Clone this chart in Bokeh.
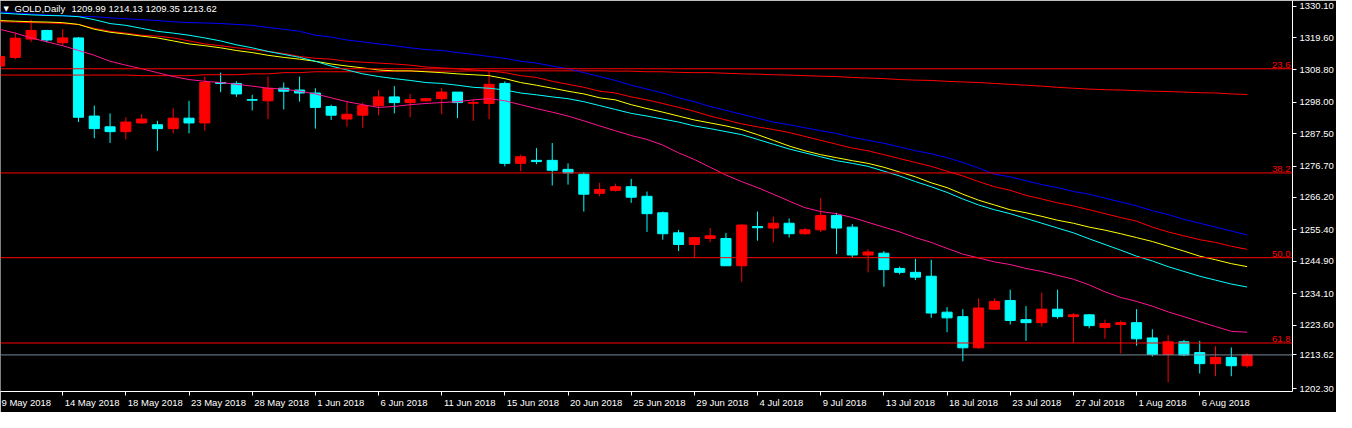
import numpy as np
from bokeh.plotting import figure
from bokeh.models import (ColumnDataSource, FixedTicker, NumeralTickFormatter, Range1d,
                          Span, Label, LinearAxis, CustomJSTickFormatter)
from bokeh.core.properties import value
from bokeh.embed import file_html
from bokeh.resources import INLINE

symbol = "GOLD,Daily"

opens = [1310.1, 1313.0, 1319.1, 1322.0, 1317.9, 1319.5, 1293.4, 1289.8, 1288.2, 1291.1,
         1290.5, 1289.2, 1292.7, 1291.1, 1304.6, 1304.3, 1298.9, 1298.5, 1302.7, 1302.1,
         1301.1, 1296.6, 1292.4, 1293.7, 1296.9, 1299.8, 1297.9, 1298.5, 1299.2, 1301.4,
         1297.7, 1297.6, 1304.3, 1277.6, 1278.6, 1278.6, 1275.6, 1274.0, 1267.6, 1268.6,
         1269.8, 1266.6, 1261.1, 1254.4, 1250.5, 1252.5, 1252.5, 1243.4, 1256.5, 1256.0,
         1257.6, 1254.1, 1255.4, 1260.2, 1256.3, 1247.0, 1247.6, 1242.5, 1241.2, 1239.9,
         1227.9, 1226.4, 1216.0, 1228.9, 1231.8, 1225.4, 1224.4, 1228.9, 1226.4, 1227.0,
         1222.8, 1223.8, 1224.4, 1219.3, 1213.8, 1218.0, 1214.4, 1210.7, 1212.8, 1209.99]

highs = [1314.6, 1321.3, 1325.6, 1322.2, 1322.4, 1319.8, 1296.9, 1294.3, 1293.0, 1294.0,
         1291.8, 1296.0, 1298.5, 1306.6, 1307.9, 1305.0, 1300.5, 1306.6, 1304.6, 1306.6,
         1302.7, 1297.2, 1298.2, 1297.9, 1302.1, 1303.4, 1300.8, 1299.5, 1302.7, 1301.4,
         1298.9, 1308.8, 1305.0, 1280.5, 1282.7, 1284.4, 1277.6, 1274.7, 1271.1, 1270.8,
         1272.4, 1268.2, 1261.5, 1255.4, 1253.1, 1256.0, 1254.4, 1257.3, 1261.5, 1259.9,
         1259.2, 1256.0, 1266.0, 1261.1, 1257.3, 1248.9, 1248.3, 1243.1, 1245.7, 1245.4,
         1229.6, 1228.9, 1232.5, 1232.5, 1235.4, 1229.9, 1234.4, 1235.4, 1227.6, 1227.3,
         1225.4, 1225.1, 1228.9, 1222.2, 1220.2, 1218.6, 1218.3, 1216.5, 1216.1, 1214.13]

lows = [1309.2, 1312.4, 1318.1, 1318.0, 1316.9, 1291.4, 1286.0, 1284.4, 1285.6, 1290.8,
        1281.8, 1287.6, 1287.6, 1288.5, 1301.4, 1299.8, 1295.3, 1292.4, 1295.6, 1298.2,
        1289.2, 1292.1, 1289.8, 1289.5, 1293.7, 1294.3, 1293.0, 1298.2, 1294.0, 1292.7,
        1291.8, 1292.4, 1276.6, 1275.0, 1277.3, 1270.2, 1270.5, 1261.5, 1266.6, 1268.2,
        1264.4, 1254.7, 1252.1, 1248.3, 1246.0, 1251.2, 1243.4, 1238.0, 1251.8, 1251.2,
        1252.8, 1253.7, 1254.7, 1247.3, 1246.0, 1241.2, 1236.4, 1240.5, 1238.6, 1226.0,
        1221.2, 1211.5, 1215.7, 1228.9, 1223.8, 1218.3, 1223.1, 1225.7, 1217.6, 1222.5,
        1219.0, 1214.1, 1216.7, 1213.1, 1204.5, 1213.2, 1207.4, 1206.5, 1206.5, 1209.35]

closes = [1313.3, 1319.4, 1322.0, 1318.8, 1319.5, 1293.0, 1289.2, 1288.2, 1291.4, 1292.4,
          1289.2, 1292.7, 1291.1, 1304.6, 1304.3, 1300.8, 1298.7, 1302.7, 1301.7, 1301.1,
          1296.3, 1293.7, 1294.0, 1296.9, 1299.8, 1297.9, 1298.9, 1299.2, 1301.4, 1297.9,
          1297.9, 1304.0, 1277.6, 1279.8, 1278.2, 1275.3, 1274.4, 1267.3, 1268.9, 1269.8,
          1266.3, 1260.8, 1254.1, 1250.5, 1252.8, 1253.4, 1243.4, 1257.0, 1256.1, 1257.6,
          1254.1, 1255.4, 1260.2, 1256.0, 1247.0, 1248.0, 1242.1, 1241.2, 1239.6, 1227.6,
          1226.0, 1216.0, 1229.3, 1231.5, 1225.1, 1224.4, 1228.9, 1226.4, 1227.0, 1223.4,
          1224.1, 1224.4, 1219.0, 1213.8, 1218.0, 1213.6, 1210.7, 1212.8, 1210.0, 1213.62]

ma_pink = [1322.4, 1321.1, 1319.5, 1318.2, 1316.9, 1315.3, 1313.7, 1311.7, 1310.4, 1309.2,
           1307.9, 1306.6, 1305.6, 1305.0, 1304.6, 1304.0, 1303.4, 1302.7, 1302.4, 1301.7,
           1300.8, 1299.5, 1298.2, 1297.2, 1296.3, 1296.6, 1297.2, 1297.6, 1297.9, 1298.2,
           1298.8, 1299.2, 1298.5, 1297.2, 1295.9, 1294.7, 1293.4, 1291.8, 1290.1, 1288.5,
           1286.9, 1285.6, 1283.7, 1281.1, 1278.9, 1276.3, 1273.7, 1271.5, 1269.5, 1267.3,
           1265.0, 1262.8, 1261.5, 1260.8, 1259.5, 1257.9, 1256.3, 1254.7, 1252.8, 1251.2,
           1249.2, 1247.3, 1246.0, 1244.7, 1243.8, 1242.5, 1241.5, 1240.2, 1238.9, 1237.0,
           1234.7, 1232.8, 1231.5, 1229.9, 1228.0, 1226.4, 1224.7, 1223.1, 1221.5, 1221.2]

ma_cyan = [1327.8, 1327.5, 1327.2, 1327.0, 1326.9, 1326.6, 1325.6, 1324.3, 1323.7, 1322.7,
           1321.7, 1321.1, 1320.4, 1319.5, 1318.5, 1317.2, 1316.2, 1315.0, 1314.0, 1313.0,
           1311.7, 1310.1, 1308.8, 1307.5, 1306.6, 1305.9, 1305.3, 1304.6, 1304.3, 1303.7,
           1303.0, 1302.7, 1302.1, 1301.1, 1300.5, 1299.8, 1299.2, 1298.2, 1296.9, 1295.6,
           1294.3, 1293.4, 1292.4, 1291.4, 1290.1, 1289.2, 1288.2, 1287.2, 1285.6, 1284.0,
           1282.4, 1281.1, 1279.8, 1278.5, 1277.6, 1276.6, 1275.0, 1273.4, 1271.5, 1269.8,
           1267.9, 1265.7, 1263.7, 1262.1, 1260.8, 1259.2, 1257.6, 1256.0, 1254.4, 1252.4,
           1250.5, 1248.6, 1246.6, 1245.0, 1243.1, 1241.5, 1239.9, 1238.6, 1237.3, 1236.3]

ma_yellow = [1325.3, 1325.1, 1324.9, 1324.8, 1324.6, 1324.0, 1322.4, 1321.4, 1320.8, 1320.1,
             1319.5, 1318.5, 1317.5, 1316.9, 1316.2, 1315.3, 1314.6, 1313.7, 1313.0, 1312.4,
             1311.7, 1310.8, 1310.1, 1309.5, 1308.8, 1308.5, 1308.5, 1308.2, 1307.9, 1307.5,
             1307.2, 1306.9, 1305.9, 1304.6, 1303.7, 1302.7, 1301.7, 1300.8, 1299.5, 1298.8,
             1297.2, 1295.9, 1294.7, 1293.4, 1292.1, 1291.1, 1290.1, 1288.9, 1287.2, 1285.3,
             1283.4, 1281.8, 1280.5, 1279.5, 1278.5, 1277.6, 1276.3, 1274.7, 1273.1, 1271.1,
             1269.5, 1267.3, 1265.3, 1263.7, 1262.1, 1261.1, 1259.9, 1258.6, 1257.6, 1256.3,
             1255.3, 1254.1, 1252.8, 1251.5, 1249.9, 1248.3, 1246.6, 1245.4, 1244.1, 1243.1]

ma_red = [1324.9, 1324.8, 1324.6, 1324.5, 1324.3, 1324.0, 1322.7, 1321.7, 1321.1, 1320.4,
          1320.1, 1319.5, 1318.5, 1317.5, 1316.9, 1316.2, 1315.6, 1315.0, 1314.3, 1313.3,
          1312.7, 1312.4, 1311.7, 1311.4, 1311.1, 1310.8, 1310.4, 1309.8, 1309.5, 1309.2,
          1308.8, 1308.5, 1307.9, 1306.9, 1306.3, 1305.0, 1304.0, 1303.0, 1301.7, 1301.1,
          1299.8, 1298.8, 1297.6, 1296.3, 1295.0, 1293.4, 1292.1, 1290.8, 1289.8, 1288.9,
          1287.9, 1286.6, 1285.3, 1284.0, 1282.7, 1281.8, 1280.5, 1279.2, 1277.9, 1276.6,
          1275.0, 1273.4, 1271.5, 1269.8, 1268.6, 1266.9, 1265.7, 1264.4, 1263.4, 1262.1,
          1260.8, 1259.5, 1258.3, 1256.3, 1254.7, 1253.4, 1252.1, 1251.2, 1249.9, 1248.9]

ma_blue = [1328.2, 1327.8, 1327.5, 1327.2, 1326.9, 1326.7, 1326.6, 1326.2, 1325.9, 1325.6,
           1325.3, 1324.9, 1324.6, 1324.5, 1324.3, 1324.0, 1323.7, 1323.0, 1322.4, 1321.7,
           1320.4, 1319.8, 1318.8, 1318.2, 1317.5, 1316.9, 1316.2, 1315.6, 1315.3, 1314.6,
           1314.0, 1313.3, 1312.7, 1311.7, 1311.1, 1310.1, 1309.2, 1307.9, 1306.6, 1305.3,
           1303.7, 1302.4, 1301.1, 1299.5, 1298.2, 1296.6, 1295.3, 1294.0, 1292.7, 1291.4,
           1290.5, 1289.5, 1288.5, 1287.6, 1286.3, 1285.3, 1284.3, 1283.1, 1281.8, 1280.8,
           1279.5, 1277.9, 1276.0, 1274.0, 1273.1, 1271.8, 1270.5, 1269.5, 1268.2, 1267.3,
           1266.0, 1264.7, 1263.4, 1261.8, 1260.5, 1258.9, 1257.6, 1256.3, 1255.0, 1253.7]

ma_slow = [1307.1, 1307.1, 1307.1, 1307.1, 1307.1, 1307.1, 1307.1, 1307.1, 1307.1, 1306.9,
           1306.9, 1306.9, 1306.9, 1307.2, 1307.2, 1307.2, 1307.5, 1307.5, 1307.9, 1307.9,
           1308.2, 1308.2, 1308.2, 1308.2, 1308.2, 1308.4, 1308.4, 1308.4, 1308.4, 1308.4,
           1308.5, 1308.5, 1308.5, 1308.5, 1308.5, 1308.5, 1308.5, 1308.5, 1308.5, 1308.4,
           1308.4, 1308.2, 1308.2, 1308.0, 1307.9, 1307.9, 1307.7, 1307.5, 1307.4, 1307.2,
           1307.1, 1306.9, 1306.7, 1306.6, 1306.3, 1306.1, 1305.9, 1305.6, 1305.4, 1305.3,
           1305.0, 1304.8, 1304.6, 1304.3, 1304.0, 1303.7, 1303.4, 1303.0, 1302.7, 1302.4,
           1302.2, 1302.1, 1301.9, 1301.7, 1301.6, 1301.4, 1301.2, 1301.1, 1300.8, 1300.6]

fib_levels = [1309.2, 1274.4, 1246.1, 1217.6]
fib_labels = ["23.6", "38.2", "50.0", "61.8"]

price_ticks = [1330.10, 1319.60, 1308.80, 1298.00, 1287.50, 1276.70, 1266.20,
               1255.40, 1244.90, 1234.10, 1223.60, 1202.30]

date_labels = ["9 May 2018", "14 May 2018", "18 May 2018", "23 May 2018", "28 May 2018",
               "1 Jun 2018", "6 Jun 2018", "11 Jun 2018", "15 Jun 2018", "20 Jun 2018",
               "25 Jun 2018", "29 Jun 2018", "4 Jul 2018", "9 Jul 2018", "13 Jul 2018",
               "18 Jul 2018", "23 Jul 2018", "27 Jul 2018", "1 Aug 2018", "6 Aug 2018"]

# ---------------------------------------------------------------- layout
W, H = 1336, 412
RB, BB = 43, 21
FW, FH = W - RB, H - BB
X0, X1 = 0.0625, 81.875
Y0, Y1 = 1201.4, 1332.0
px_x = (X1 - X0) / FW
px_y = (Y1 - Y0) / FH
FONT = "Liberation Sans"
FS = 9.5

n = len(opens)
idx = np.arange(n)
o = np.array(opens); c = np.array(closes)
up = c > o
colors = np.where(up, "#FF0000", "#00FFFF")
src = ColumnDataSource(dict(
    x=idx, high=highs, low=lows,
    top=np.maximum(o, c), bottom=np.minimum(o, c), color=colors))

p = figure(width=W, height=H, output_backend="svg", toolbar_location=None,
           x_range=Range1d(X0, X1), y_range=Range1d(Y0, Y1),
           y_axis_location="right",
           background_fill_color="black", border_fill_color="black",
           min_border_left=0, min_border_top=0,
           min_border_right=RB, min_border_bottom=BB)
p.grid.visible = False
p.outline_line_color = None

# bottom axis: tick marks at the labelled bars
tick_idx = list(range(0, n, 4))[:len(date_labels)]
xa = p.xaxis[0]
xa.ticker = FixedTicker(ticks=tick_idx)
xa.formatter = CustomJSTickFormatter(code="return '';")
xa.axis_line_color = "white"
xa.major_tick_line_color = "white"
xa.major_tick_out = 4
xa.major_tick_in = 0
xa.minor_tick_line_color = None
xa.major_label_text_font_size = "1px"
xa.major_label_standoff = 0

# second bottom axis: date labels, left-aligned to the right of each tick
em = {' ': 0.278, 'M': 0.833, 'y': 0.5, 'J': 0.5, 'l': 0.222, 'A': 0.667}
def text_w(s):
    return sum(em.get(ch, 0.556) for ch in s) * FS
label_pos = [t + (2 + text_w(s) / 2) * px_x for t, s in zip(tick_idx, date_labels)]
xb = LinearAxis(ticker=FixedTicker(ticks=label_pos),
                formatter=CustomJSTickFormatter(args=dict(labels=date_labels),
                                                code="return labels[index];"))
xb.axis_line_color = None
xb.major_tick_line_color = None
xb.major_tick_out = 0
xb.major_tick_in = 0
xb.minor_tick_line_color = None
xb.major_label_standoff = 1
xb.major_label_text_color = "white"
xb.major_label_text_font = FONT
xb.major_label_text_font_size = f"{FS}px"
p.add_layout(xb, "below")

# right price axis (with the current price appended)
bid = closes[-1]
ya = p.yaxis[0]
ya.ticker = FixedTicker(ticks=price_ticks + [bid])
ya.formatter = NumeralTickFormatter(format="0.00")
ya.axis_line_color = "white"
ya.major_tick_line_color = "white"
ya.major_tick_out = 4
ya.major_tick_in = 0
ya.minor_tick_line_color = None
ya.major_label_text_color = "white"
ya.major_label_text_font = FONT
ya.major_label_text_font_size = f"{FS}px"
ya.major_label_standoff = 3

# top frame line
p.add_layout(Span(location=Y1, dimension="width", line_color="white", line_width=1))

# bid line
p.add_layout(Span(location=bid, dimension="width", line_color="#778899", line_width=1))

# candles
p.segment(x0="x", y0="low", x1="x", y1="high", line_color="color", line_width=1, source=src)
p.vbar(x="x", width=0.64, top="top", bottom="bottom", fill_color="color",
       line_color="color", line_width=1, source=src)

# moving averages
p.line(idx, ma_slow, line_color="#FF0000", line_width=1)
p.line(idx, ma_blue, line_color="#0000FF", line_width=1)
p.line(idx, ma_red, line_color="#FF0000", line_width=1)
p.line(idx, ma_yellow, line_color="#FFFF00", line_width=1)
p.line(idx, ma_cyan, line_color="#00FFFF", line_width=1)
p.line(idx, ma_pink, line_color="#FF1493", line_width=1)

# fibonacci levels
for lv in fib_levels:
    p.add_layout(Span(location=lv, dimension="width", line_color="#FF0000", line_width=1))
p.text(x=[X1 - 2 * px_x] * len(fib_levels), y=fib_levels, text=fib_labels,
       text_align="right", text_baseline="bottom", text_color="#FF0000",
       text_font=value(FONT), text_font_size=f"{FS}px", y_offset=-1)

# header
ytop = Y1 - 8 * px_y
p.add_layout(Label(x=X0 + 3 * px_x, y=ytop, text="\u25BC", text_align="left",
                   text_baseline="middle", text_color="white",
                   text_font="DejaVu Sans", text_font_size="7px"))
p.add_layout(Label(x=X0 + 14 * px_x, y=ytop, text=symbol, text_align="left",
                   text_baseline="middle", text_color="white",
                   text_font=FONT, text_font_size=f"{FS}px"))
ohlc_text = " ".join(f"{v:.2f}" for v in (opens[-1], highs[-1], lows[-1], closes[-1]))
p.add_layout(Label(x=X0 + 71 * px_x, y=ytop, text=ohlc_text, text_align="left",
                   text_baseline="middle", text_color="white",
                   text_font=FONT, text_font_size=f"{FS}px"))

open("out.html", "w").write(file_html(p, INLINE))
